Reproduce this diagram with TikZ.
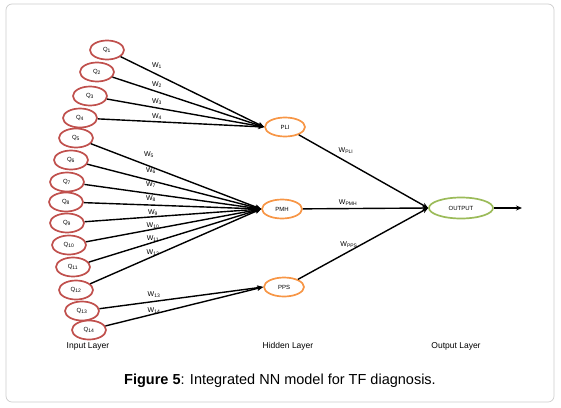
\documentclass[tikz,border=0pt]{standalone}
\usepackage{fontspec}
\setmainfont{Liberation Sans}
\usetikzlibrary{arrows.meta,shapes.geometric}
\definecolor{inred}{HTML}{C0504D}
\definecolor{hidorange}{HTML}{F79646}
\definecolor{outgreen}{HTML}{9BBB59}
\tikzset{
  innode/.style={ellipse, draw=inred, line width=1.7pt, minimum width=34pt, minimum height=19pt, inner sep=0pt, font=\fontsize{6}{7}\selectfont},
  hidnode/.style={ellipse, draw=hidorange, line width=1.7pt, minimum width=40pt, minimum height=19pt, inner sep=0pt, font=\fontsize{6}{7}\selectfont},
  outnode/.style={ellipse, draw=outgreen, line width=1.7pt, minimum width=64pt, minimum height=21pt, inner sep=0pt, font=\fontsize{6}{7}\selectfont},
  conn/.style={line width=1.4pt, -{Stealth[length=6pt,width=5pt]}},
  wlabel/.style={font=\fontsize{7}{8}\selectfont, inner sep=0pt},
  layerlabel/.style={font=\fontsize{8.5}{10}\selectfont, inner sep=0pt},
}
\begin{document}
\begin{tikzpicture}[x=1pt,y=-1pt]
\useasboundingbox (0,0) rectangle (561,407);
\draw[black!20, line width=0.7pt, rounded corners=6pt] (6,4) rectangle (554,402);
% input nodes
\node[innode] (q1) at (107,50) {Q\textsubscript{1}};
\node[innode] (q2) at (97,72) {Q\textsubscript{2}};
\node[innode] (q3) at (90,96) {Q\textsubscript{3}};
\node[innode] (q4) at (80,118) {Q\textsubscript{4}};
\node[innode] (q5) at (76,138) {Q\textsubscript{5}};
\node[innode] (q6) at (71,160) {Q\textsubscript{6}};
\node[innode] (q7) at (67,182) {Q\textsubscript{7}};
\node[innode] (q8) at (66,202) {Q\textsubscript{8}};
\node[innode] (q9) at (67,223) {Q\textsubscript{9}};
\node[innode] (q10) at (69,245) {Q\textsubscript{10}};
\node[innode] (q11) at (73,267) {Q\textsubscript{11}};
\node[innode] (q12) at (76,290) {Q\textsubscript{12}};
\node[innode] (q13) at (82,311) {Q\textsubscript{13}};
\node[innode] (q14) at (89,330) {Q\textsubscript{14}};
% hidden nodes
\node[hidnode] (pli) at (285,127) {PLI};
\node[hidnode] (pmh) at (282,209) {PMH};
\node[hidnode] (pps) at (284,287) {PPS};
% output
\node[outnode] (out) at (461,208) {OUTPUT};
\coordinate (outend) at (522,208);
% connectors
\foreach \i in {1,...,4} {\draw[conn] (q\i) -- (pli.west);}
\foreach \i in {5,...,12} {\draw[conn] (q\i) -- (pmh.west);}
\foreach \i in {13,14} {\draw[conn] (q\i) -- (pps.west);}
\draw[conn] (pli) -- (out.west);
\draw[conn] (pmh) -- (out.west);
\draw[conn] (pps) -- (out.west);
\draw[conn] (out) -- (outend);
% weight labels
\node[wlabel] (w1) at (157,66) {W\textsubscript{1}};
\node[wlabel] (w2) at (157,85) {W\textsubscript{2}};
\node[wlabel] (w3) at (157,102) {W\textsubscript{3}};
\node[wlabel] (w4) at (157,117) {W\textsubscript{4}};
\node[wlabel] (w5) at (149,155) {W\textsubscript{5}};
\node[wlabel] (w6) at (151,171) {W\textsubscript{6}};
\node[wlabel] (w7) at (151,185) {W\textsubscript{7}};
\node[wlabel] (w8) at (151,199) {W\textsubscript{8}};
\node[wlabel] (w9) at (153,213) {W\textsubscript{9}};
\node[wlabel] (w10) at (153,226) {W\textsubscript{10}};
\node[wlabel] (w11) at (153,239) {W\textsubscript{11}};
\node[wlabel] (w12) at (153,253) {W\textsubscript{12}};
\node[wlabel] (w13) at (154,295) {W\textsubscript{13}};
\node[wlabel] (w14) at (154,311) {W\textsubscript{14}};
\node[wlabel] (wpli) at (346,151) {W\textsubscript{PLI}};
\node[wlabel] (wpmh) at (348,203) {W\textsubscript{PMH}};
\node[wlabel] (wpps) at (349,245) {W\textsubscript{PPS}};
% layer labels
\node[layerlabel] (il) at (88,346) {Input Layer};
\node[layerlabel] (hl) at (288,346) {Hidden Layer};
\node[layerlabel] (ol) at (456,346) {Output Layer};
% caption
\node[font=\fontsize{14.5}{17}\selectfont, inner sep=0pt] (cap) at (280,381) {\textbf{Figure 5}: Integrated NN model for TF diagnosis.};
\end{tikzpicture}
\end{document}
